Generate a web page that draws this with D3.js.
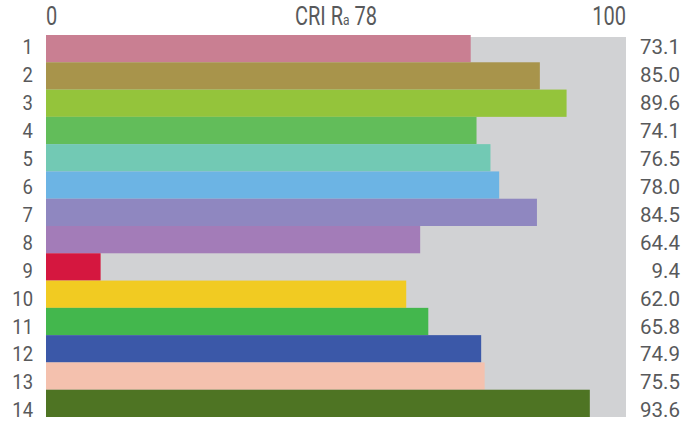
<!DOCTYPE html>
<html>
<head>
<meta charset="utf-8">
<script src="https://cdn.jsdelivr.net/npm/d3@7"></script>
<style>
  body { margin: 0; background: #fff; }
  text { font-family: "Roboto", "Liberation Sans", sans-serif; fill: #58595b; }
</style>
</head>
<body>
<div id="chart"></div>
<script>
// Данные
const samples = ['1', '2', '3', '4', '5', '6', '7', '8', '9', '10', '11', '12', '13', '14'];
const values = [73.1, 85.0, 89.6, 74.1, 76.5, 78.0, 84.5, 64.4, 9.4, 62.0, 65.8, 74.9, 75.5, 93.6];
const colors = ['#c97f92', '#a8944b', '#94c43b', '#62bd5a', '#72c9b4', '#6cb4e4', '#8f87c0',
                '#a37cb8', '#d5173f', '#f1cb22', '#43b74d', '#3b58a8', '#f4c1ae', '#4e7423'];
const axisTicks = [0, 100];
const cri = 78;

const width = 690, height = 425;
const margin = { top: 35, right: 63, bottom: 8, left: 46 };

const svg = d3.select('#chart').append('svg')
    .attr('width', width)
    .attr('height', height);

const x = d3.scaleLinear()
    .domain([0, 100])
    .range([margin.left, width - margin.right]);

const y = d3.scaleBand()
    .domain(samples)
    .range([margin.top, height - margin.bottom])
    .padding(0);

// Подписи строк идут с чуть другим шагом, чем полосы
const yLabel = d3.scalePoint()
    .domain(samples)
    .range([46.5, 410]);

// Серый фон
svg.append('rect')
    .attr('x', x(0))
    .attr('y', y(samples[0]) + 2)
    .attr('width', x(100) - x(0) - 1)
    .attr('height', y(samples[samples.length - 1]) + y.bandwidth() - y(samples[0]) - 2)
    .attr('fill', '#d1d2d4');

// Столбцы
svg.selectAll('.bar')
    .data(values)
    .enter().append('rect')
    .attr('class', 'bar')
    .attr('x', x(0))
    .attr('y', (d, i) => y(samples[i]))
    .attr('width', d => x(d) - x(0))
    .attr('height', y.bandwidth())
    .attr('fill', (d, i) => colors[i]);

// Номера слева
svg.selectAll('.num')
    .data(samples)
    .enter().append('text')
    .attr('class', 'num')
    .attr('transform', d => `translate(33,${yLabel(d)}) scale(0.9,1)`)
    .attr('dy', '0.36em')
    .attr('text-anchor', 'end')
    .attr('font-size', 20.5)
    .text(d => d);

// Значения справа (выравнивание по правому краю)
svg.selectAll('.val')
    .data(values)
    .enter().append('text')
    .attr('class', 'val')
    .attr('transform', (d, i) => `translate(680,${yLabel(samples[i])})`)
    .attr('dy', '0.36em')
    .attr('text-anchor', 'end')
    .attr('font-size', 20.5)
    .text(d => d.toFixed(1));

// Верхняя шкала
svg.selectAll('.tick')
    .data(axisTicks)
    .enter().append('text')
    .attr('class', 'tick')
    .attr('transform', d => `translate(${d === 0 ? x(d) : x(d) - 1},25) scale(0.8,1)`)
    .attr('text-anchor', d => d === 0 ? 'start' : 'end')
    .attr('font-size', 25)
    .text(d => d);

const title = svg.append('text')
    .attr('transform', 'translate(336,25) scale(0.8,1)')
    .attr('text-anchor', 'middle')
    .attr('font-size', 25);
title.append('tspan').text('CRI R');
title.append('tspan').attr('font-size', 15).text('a');
title.append('tspan').text(' ' + cri);
</script>
</body>
</html>
